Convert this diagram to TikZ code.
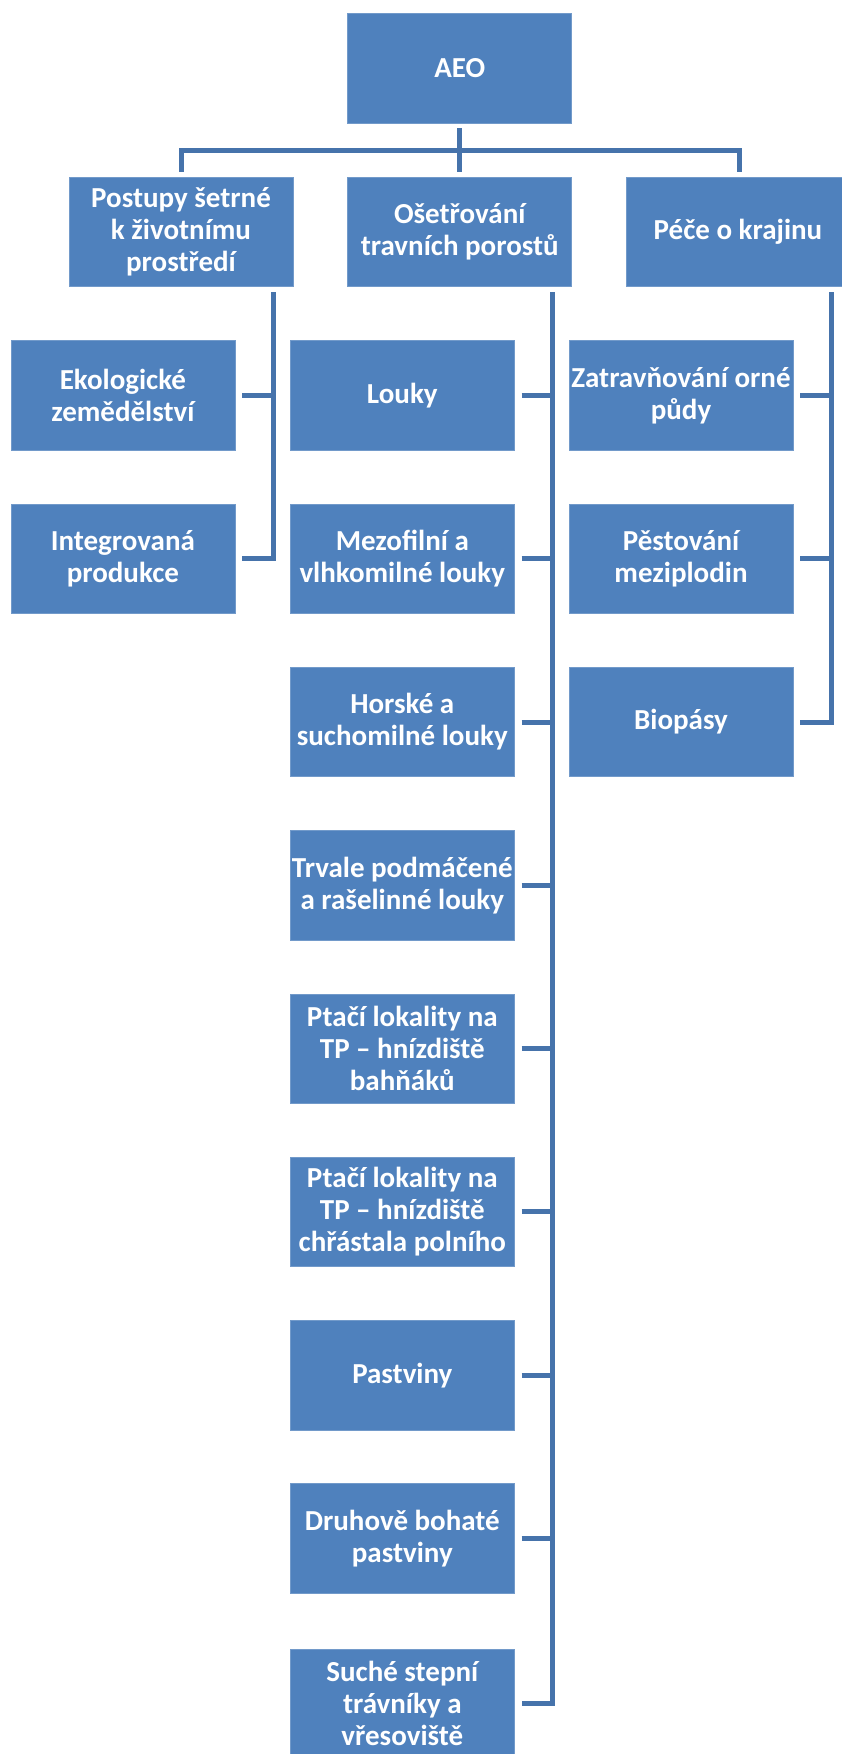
\documentclass[tikz,border=0pt]{standalone}
\usepackage{fontspec}
\setmainfont{Carlito}
\usetikzlibrary{calc}
\definecolor{boxblue}{HTML}{4F81BD}
\definecolor{linecol}{HTML}{4673AB}
\begin{document}
\begin{tikzpicture}[x=1pt,y=-1pt,
  box/.style={fill=boxblue, draw=boxblue!80!white, line width=0.6pt, minimum width=224pt, minimum height=109.5pt,
    inner sep=0pt, align=center, text=white,
    font=\bfseries\fontsize{29}{32}\selectfont},
  conn/.style={draw=linecol, line width=5pt}]
\useasboundingbox (0,0) rectangle (842,1754);
\clip (0,0) rectangle (842,1754);
% level 1
\node[box] (aeo) at (459.75,68.3) {AEO};
% level 2
\node[box] (pos) at (181,232) {Postupy šetrné\\k životnímu\\prostředí};
\node[box] (ose) at (459.75,232) {Ošetřování\\travních porostů};
\node[box] (pec) at (738,232) {Péče o krajinu};
% level 3 left
\node[box] (eko) at (122.9,395.4) {Ekologické\\zemědělství};
\node[box] (int) at (122.9,558.7) {Integrovaná\\produkce};
% level 3 middle
\node[box] (m1) at (402.3,395.4) {Louky};
\node[box] (m2) at (402.3,558.7) {Mezofilní a\\vlhkomilné louky};
\node[box] (m3) at (402.3,722.0) {Horské a\\suchomilné louky};
\node[box] (m4) at (402.3,885.3) {Trvale podmáčené\\a rašelinné louky};
\node[box] (m5) at (402.3,1048.6) {Ptačí lokality na\\TP – hnízdiště\\bahňáků};
\node[box] (m6) at (402.3,1211.9) {Ptačí lokality na\\TP – hnízdiště\\chřástala polního};
\node[box] (m7) at (402.3,1375.2) {Pastviny};
\node[box] (m8) at (402.3,1538.5) {Druhově bohaté\\pastviny};
\node[box] (m9) at (402.3,1703.8) {Suché stepní\\trávníky a\\vřesoviště};
% level 3 right
\node[box] (r1) at (681,395.4) {Zatravňování orné\\půdy};
\node[box] (r2) at (681,558.7) {Pěstování\\meziplodin};
\node[box] (r3) at (681,722.0) {Biopásy};
% top connectors
\draw[conn] ($(aeo.south)+(0,5)$) -- ($(ose.north)+(0,-5)$);
\draw[conn] ($(pos.north)+(0,-5)$) |- ($(aeo.south)+(0,27)$) -| ($(pec.north)+(1.5,-5)$);
% bracket coordinates
\coordinate (lb) at ($(pos.south east)+(-20,5)$);
\coordinate (mb) at ($(ose.south east)+(-20,5)$);
\coordinate (rb) at ($(pec.south east)+(-19,5)$);
% left bracket
\draw[conn] ($(eko.east)+(7,0)$) -- (eko.east -| lb);
\draw[conn] (lb) |- ($(int.east)+(7,0)$);
% middle bracket
\foreach \n in {m1,m2,m3,m4,m5,m6,m7,m8}
  \draw[conn] ($(\n.east)+(7,0)$) -- (\n.east -| mb);
\draw[conn] (mb) |- ($(m9.east)+(7,0)$);
% right bracket
\foreach \n in {r1,r2}
  \draw[conn] ($(\n.east)+(7,0)$) -- (\n.east -| rb);
\draw[conn] (rb) |- ($(r3.east)+(7,0)$);
\end{tikzpicture}
\end{document}
